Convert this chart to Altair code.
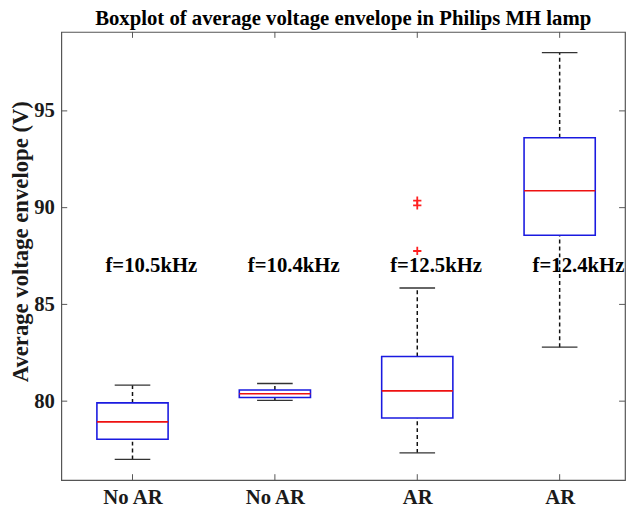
import json
import altair as alt
import pandas as pd

# ---- data ----
categories = ["No AR", "No AR", "AR", "AR"]
positions = [1, 2, 3, 4]
lower_whisker = [76.99, 80.04, 77.33, 82.79]
q1 = [78.03, 80.19, 79.13, 88.57]
median = [78.93, 80.38, 80.53, 90.87]
q3 = [79.91, 80.58, 82.31, 93.61]
upper_whisker = [80.83, 80.91, 85.85, 98.01]
outlier_pos = [3, 3, 3]
outlier_vals = [90.36, 90.12, 87.76]
annotations = ["f=10.5kHz", "f=10.4kHz", "f=12.5kHz", "f=12.4kHz"]
annotation_y = [87.0, 87.0, 87.0, 87.0]
y_ticks = [80, 85, 90, 95]

W, H = 571, 454
FONT = "Liberation Serif"
AX = "#555555"

boxes = pd.DataFrame({
    "pos": positions, "cat": categories, "lo": lower_whisker, "q1": q1,
    "med": median, "q3": q3, "hi": upper_whisker,
})
outl = pd.DataFrame({"pos": outlier_pos, "v": outlier_vals})
ann = pd.DataFrame({"pos": positions, "txt": annotations, "y": annotation_y})
yt = pd.DataFrame({"v": y_ticks})
xt = pd.DataFrame({"pos": positions})

xscale = alt.Scale(domain=[0.5, 4.459], nice=False, zero=False)
yscale = alt.Scale(domain=[75.92, 99.08], nice=False, zero=False)

label_expr = json.dumps(categories) + "[datum.value - 1]"
xaxis = alt.Axis(values=positions, labelExpr=label_expr, title=None, grid=False,
                 ticks=False, domain=False, labelFont=FONT, labelFontWeight="bold",
                 labelFontSize=21, labelColor="#1a1a1a", labelPadding=7)
yaxis = alt.Axis(values=y_ticks, title="Average voltage envelope (V)", grid=False,
                 ticks=False, domain=False, labelFont=FONT, labelFontWeight="bold",
                 labelFontSize=21, labelColor="#1a1a1a", labelPadding=7,
                 titleFont=FONT, titleFontWeight="bold", titleFontSize=23,
                 titleColor="#1a1a1a", titleAngle=-90, titleAlign="center",
                 titleBaseline="middle", titleX=-41, titleY=212)

base = alt.Chart(boxes)
X = alt.X("pos:Q", scale=xscale, axis=xaxis)

whisk_up = base.mark_rule(color="#111111", strokeWidth=1.5, strokeDash=[4, 3]).encode(
    x=X, y=alt.Y("q3:Q", scale=yscale, axis=yaxis), y2="hi:Q")
whisk_lo = base.mark_rule(color="#111111", strokeWidth=1.5, strokeDash=[4, 3]).encode(
    x="pos:Q", y="lo:Q", y2="q1:Q")

caps_hi = base.transform_calculate(a="datum.pos - 0.125", b="datum.pos + 0.125").mark_rule(
    color="#333333", strokeWidth=1.4).encode(x="a:Q", x2="b:Q", y="hi:Q")
caps_lo = base.transform_calculate(a="datum.pos - 0.125", b="datum.pos + 0.125").mark_rule(
    color="#333333", strokeWidth=1.4).encode(x="a:Q", x2="b:Q", y="lo:Q")

box = base.transform_calculate(a="datum.pos - 0.25", b="datum.pos + 0.25").mark_rect(
    fill="white", stroke="#1a1ae0", strokeWidth=1.6).encode(
    x="a:Q", x2="b:Q", y="q1:Q", y2="q3:Q")

med = base.transform_calculate(a="datum.pos - 0.25", b="datum.pos + 0.25").mark_rule(
    color="#ee1111", strokeWidth=1.6).encode(x="a:Q", x2="b:Q", y="med:Q")

plus_path = "M-1,0L1,0M0,-1L0,1"
outliers = alt.Chart(outl).mark_point(shape=plus_path, size=70, color="#ff2020",
                                      strokeWidth=1.8, filled=False, opacity=1).encode(
    x="pos:Q", y="v:Q")

texts = alt.Chart(ann).transform_calculate(tx="datum.pos - 0.19").mark_text(
    align="left", baseline="middle", font=FONT, fontWeight="bold", fontSize=21,
    color="#000000").encode(x="tx:Q", y="y:Q", text="txt:N")

# inward ticks on all four sides (Matlab style)
TL = 6
tb = alt.Chart(xt).mark_rule(color=AX, strokeWidth=1).encode(
    x="pos:Q", y=alt.value(H), y2=alt.value(H - TL))
tt = alt.Chart(xt).mark_rule(color=AX, strokeWidth=1).encode(
    x="pos:Q", y=alt.value(0), y2=alt.value(TL))
tl = alt.Chart(yt).mark_rule(color=AX, strokeWidth=1).encode(
    y="v:Q", x=alt.value(0), x2=alt.value(TL))
tr = alt.Chart(yt).mark_rule(color=AX, strokeWidth=1).encode(
    y="v:Q", x=alt.value(W), x2=alt.value(W - TL))

chart = alt.layer(
    whisk_up, whisk_lo, caps_hi, caps_lo, box, med, outliers, texts, tb, tt, tl, tr
).properties(
    width=W, height=H,
    title=alt.TitleParams("Boxplot of average voltage envelope in Philips MH lamp",
                          font=FONT, fontWeight="bold", fontSize=21, color="#000000",
                          anchor="middle", offset=3),
    autosize=alt.AutoSizeParams(type="none"),
    padding={"left": 54, "top": 21, "right": 1, "bottom": 25},
).configure_view(stroke=AX, strokeWidth=1.2)

chart.save("out.html", embed_options={"renderer": "svg", "actions": False})
